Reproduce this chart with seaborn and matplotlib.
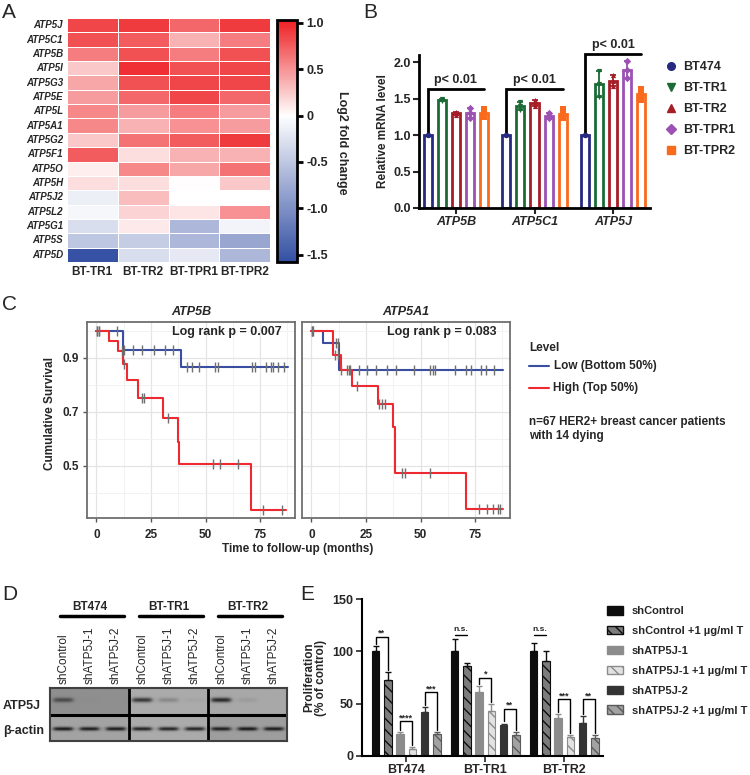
import numpy as np
import pandas as pd
import seaborn as sns
import matplotlib.pyplot as plt
from matplotlib.colors import LinearSegmentedColormap
from matplotlib.lines import Line2D
from matplotlib.patches import Patch

sns.set_theme(style="white")
plt.rcParams["font.family"] = ["Liberation Sans", "DejaVu Sans"]
plt.rcParams["hatch.linewidth"] = 1.0

# ---------------- data ----------------
# A: heatmap of log2 fold change
genes = ["ATP5J", "ATP5C1", "ATP5B", "ATP5I", "ATP5G3", "ATP5E", "ATP5L", "ATP5A1",
         "ATP5G2", "ATP5F1", "ATP5O", "ATP5H", "ATP5J2", "ATP5L2", "ATP5G1", "ATP5S", "ATP5D"]
lines_a = ["BT-TR1", "BT-TR2", "BT-TPR1", "BT-TPR2"]
fold = [
    [0.85, 0.90, 0.70, 0.90],
    [0.80, 0.75, 0.35, 0.60],
    [0.60, 0.80, 0.60, 0.80],
    [0.25, 0.95, 0.80, 0.85],
    [0.40, 0.80, 0.85, 0.85],
    [0.45, 0.70, 0.85, 0.70],
    [0.55, 0.45, 0.60, 0.45],
    [0.55, 0.35, 0.50, 0.45],
    [0.25, 0.65, 0.75, 0.90],
    [0.75, 0.15, 0.35, 0.35],
    [0.08, 0.55, 0.40, 0.65],
    [0.15, 0.15, 0.01, 0.25],
    [-0.15, 0.30, 0.00, 0.00],
    [-0.08, 0.20, 0.12, 0.50],
    [-0.30, 0.10, -0.65, -0.10],
    [-0.50, -0.45, -0.65, -0.80],
    [-1.55, -0.30, -0.20, -0.65],
]

# B: relative mRNA level, three replicates per cell line
b_genes = ["ATP5B", "ATP5C1", "ATP5J"]
b_lines = ["BT474", "BT-TR1", "BT-TR2", "BT-TPR1", "BT-TPR2"]
b_colors = ["#262a80", "#1c6b36", "#a51d27", "#9b52b3", "#fa6a1d"]
b_markers = ["o", "v", "^", "D", "s"]
rep_atp5b = [[1.0, 1.0, 1.0], [1.47, 1.49, 1.48], [1.28, 1.31, 1.32], [1.23, 1.30, 1.37], [1.25, 1.30, 1.36]]
rep_atp5c1 = [[1.0, 1.0, 1.0], [1.34, 1.40, 1.46], [1.40, 1.44, 1.48], [1.23, 1.26, 1.30], [1.23, 1.30, 1.36]]
rep_atp5j = [[1.0, 1.0, 1.0], [1.52, 1.70, 1.88], [1.68, 1.75, 1.82], [1.78, 1.90, 2.02], [1.48, 1.57, 1.63]]
b_bracket = [1.64, 1.64, 2.11]

# C: Kaplan-Meier step curves (time in months, survival)
b_low_t = [0, 12.3, 38.8, 88.0]
b_low_s = [1.0, 0.930, 0.865, 0.865]
b_high_t = [0, 5.6, 9.8, 12.2, 14.0, 19.0, 30.3, 37.3, 38.0, 70.7, 86.9]
b_high_s = [1.0, 0.962, 0.925, 0.877, 0.818, 0.753, 0.679, 0.590, 0.508, 0.338, 0.338]
b_low_cens = [0.3, 1.0, 9.4, 12.5, 16.8, 20.9, 26.5, 31.6, 34.9, 41.4, 43.8, 47.1, 54.4, 55.5,
              71.2, 72.7, 77.6, 79.8, 80.8, 83.4, 85.8]
b_high_cens = [0.3, 1.0, 11.7, 12.6, 20.9, 22.0, 33.0, 53.6, 56.6, 65.0, 76.5, 84.9]
a_low_t = [0, 5.5, 12.6, 88.0]
a_low_s = [1.0, 0.957, 0.855, 0.855]
a_high_t = [0, 10.0, 13.7, 18.7, 30.6, 37.4, 38.2, 70.8, 87.8]
a_high_s = [1.0, 0.911, 0.856, 0.796, 0.730, 0.643, 0.475, 0.340, 0.340]
a_low_cens = [0.3, 0.8, 11.4, 12.3, 13.4, 16.4, 17.9, 21.7, 25.6, 29.4, 34.7, 38.8, 47.2, 54.5,
              55.7, 56.8, 65.9, 71.0, 73.0, 77.8, 80.0, 83.7]
a_high_cens = [0.5, 11.0, 12.2, 17.2, 20.7, 30.9, 32.4, 33.9, 41.6, 43.1, 54.2, 77.0, 80.5, 83.0, 85.5, 86.2]

# D: western blot band intensities (0 = none, 1 = strong)
blot_sections = ["BT474", "BT-TR1", "BT-TR2"]
lane_labels = ["shControl", "shATP5J-1", "shATP5J-2"] * 3
atp5j_band = [0.55, 0.02, 0.0, 0.75, 0.22, 0.04, 0.85, 0.08, 0.0]
actin_band = [0.95, 0.92, 0.93, 0.90, 0.88, 0.88, 0.92, 0.95, 0.93]
atp5j_bg = [0.56, 0.67, 0.66]
actin_bg = [0.64, 0.67, 0.62]

# E: proliferation
e_groups = ["BT474", "BT-TR1", "BT-TR2"]
e_conds = ["shControl", "shControl +1 \u00b5g/ml T", "shATP5J-1", "shATP5J-1 +1 \u00b5g/ml T",
           "shATP5J-2", "shATP5J-2 +1 \u00b5g/ml T"]
e_mean = [[100, 73, 21, 7, 42, 21],
          [100, 86, 61, 43, 30, 20],
          [100, 91, 36, 18, 32, 17]]
e_err = [[5, 7, 1.5, 1.5, 5, 2],
         [12, 3, 6, 7, 1, 3],
         [8, 9, 4, 2, 6, 3]]
e_face = ["#0d0d0d", "#7c7c7c", "#8c8c8c", "#e2e2e2", "#343434", "#a2a2a2"]
e_edge = ["#0d0d0d", "#0d0d0d", "#8c8c8c", "#8c8c8c", "#343434", "#5a5a5a"]
e_hatch = [None, "\\\\\\", None, "\\\\\\", None, "\\\\\\"]
e_sig = [(0, 0, 1, 114, "**"), (0, 2, 3, 33, "****"), (0, 4, 5, 61, "***"),
         (1, 2, 3, 75, "*"), (1, 4, 5, 45, "**"), (2, 2, 3, 54, "***"), (2, 4, 5, 54, "**")]
e_ns = [(1, 0, 1, 116), (2, 0, 1, 116)]

# ---------------- figure ----------------
W, H = 750, 775
fig = plt.figure(figsize=(7.5, 7.75), dpi=100)


def rect(x0, y0, x1, y1):
    return [x0 / W, 1 - y1 / H, (x1 - x0) / W, (y1 - y0) / H]


def ftext(x, y, s, **kw):
    return fig.text(x / W, 1 - y / H, s, **kw)


for lab, (lx, ly) in zip("ABCDE", [(2, 12), (363, 12), (2, 305), (2, 595), (300, 595)]):
    ftext(lx, ly, lab, fontsize=15, va="center", ha="left")

# ---- A ----
axA = fig.add_axes(rect(67, 18, 270, 262))
axCb = fig.add_axes(rect(277, 20, 297, 262))
cmap = LinearSegmentedColormap.from_list("bwr_gp", [(0, "#3450a3"), (0.605, "#ffffff"), (1, "#ee2024")])
dfA = pd.DataFrame(fold, index=genes, columns=lines_a)
sns.heatmap(dfA, ax=axA, cbar_ax=axCb, cmap=cmap, vmin=-1.58, vmax=1.03,
            linewidths=0.4, linecolor="white", xticklabels=True, yticklabels=True,
            cbar_kws={"ticks": [-1.5, -1.0, -0.5, 0, 0.5, 1.0]})
axA.set_yticklabels(genes, rotation=0, fontstyle="italic", fontweight="bold", fontsize=7)
axA.set_xticklabels(lines_a, rotation=0, fontweight="bold", fontsize=8.5)
axA.tick_params(length=0, pad=3)
axA.set_xlabel("")
axA.set_ylabel("")
axCb.set_yticklabels(["-1.5", "-1.0", "-0.5", "0", "0.5", "1.0"], fontweight="bold", fontsize=9)
axCb.tick_params(length=4, width=2, right=True, color="black", pad=3)
axA.collections[0].colorbar.outline.set_linewidth(2)
axA.collections[0].colorbar.outline.set_edgecolor("black")
ftext(342, 143, "Log2 fold change", rotation=-90, ha="center", va="center", fontweight="bold", fontsize=9)

# ---- B ----
axB = fig.add_axes(rect(419, 55, 650, 208))
rows = []
for g, reps in zip(b_genes, [rep_atp5b, rep_atp5c1, rep_atp5j]):
    for ln, vals in zip(b_lines, reps):
        for v in vals:
            rows.append((g, ln, v))
dfB = pd.DataFrame(rows, columns=["gene", "line", "value"])
sns.barplot(data=dfB, x="gene", y="value", hue="line", order=b_genes, hue_order=b_lines,
            palette=b_colors, saturation=1, fill=False, width=0.9, gap=0.42,
            errorbar=None, linewidth=2, legend=False, ax=axB)
stats = dfB.groupby(["gene", "line"])["value"].agg(["mean", "std"])
bars = sorted(axB.patches, key=lambda p: p.get_x())
centers = {}
for i, p in enumerate(bars):
    gi, hi = divmod(i, len(b_lines))
    g, ln = b_genes[gi], b_lines[hi]
    cx = p.get_x() + p.get_width() / 2
    centers[(gi, hi)] = cx
    m, sd = stats.loc[(g, ln), "mean"], stats.loc[(g, ln), "std"]
    if sd > 0:
        axB.errorbar(cx, m, yerr=sd, color=b_colors[hi], capsize=2.5, lw=1.3, capthick=1.3)
    vals = dfB[(dfB.gene == g) & (dfB.line == ln)]["value"]
    axB.scatter([cx] * len(vals), vals, marker=b_markers[hi], color=b_colors[hi], s=14, zorder=5,
                linewidths=0)
for gi, yb in enumerate(b_bracket):
    x0, x1 = centers[(gi, 0)], centers[(gi, 4)]
    axB.plot([x0, x0, x1], [1.03, yb, yb], color="black", lw=2, clip_on=False, solid_joinstyle="miter")
    axB.text((x0 + x1) / 2, yb + 0.04, "p< 0.01", ha="center", va="bottom", fontweight="bold",
             fontsize=9, clip_on=False)
axB.set_xlim(-0.47, 2.47)
axB.set_ylim(0, 2.1)
axB.set_yticks([0, 0.5, 1.0, 1.5, 2.0])
axB.set_yticklabels(["0.0", "0.5", "1.0", "1.5", "2.0"], fontweight="bold", fontsize=9)
axB.set_xticks(range(3))
axB.set_xticklabels(b_genes, fontstyle="italic", fontweight="bold", fontsize=9)
axB.tick_params(axis="both", length=4, width=1.5, direction="out", bottom=True, left=True, pad=2)
axB.set_xlabel("")
axB.set_ylabel("Relative mRNA level", fontweight="bold", fontsize=8.5, labelpad=3)
sns.despine(ax=axB)
for sp in ["left", "bottom"]:
    axB.spines[sp].set_linewidth(2)
    axB.spines[sp].set_color("black")
b_handles = [Line2D([], [], marker=m, color=c, ls="none", markersize=5.5) for m, c in zip(b_markers, b_colors)]
fig.legend(b_handles, b_lines, loc="upper left", bbox_to_anchor=(652 / W, 1 - 50 / H), frameon=False,
           prop={"weight": "bold", "size": 9}, handletextpad=0.4, labelspacing=0.72, handlelength=1.2)

# ---- C ----
km_low = "#3a4ea1"
km_high = "#ee2a30"


def step_eval(ts, ss, x):
    idx = np.searchsorted(ts, x, side="right") - 1
    return np.asarray(ss)[idx]


def km_panel(ax, lt, ls, ht, hs, lc, hc, title, ptxt, show_y):
    df = pd.concat([pd.DataFrame({"t": lt, "s": ls, "level": "Low"}),
                    pd.DataFrame({"t": ht, "s": hs, "level": "High"})])
    sns.lineplot(data=df, x="t", y="s", hue="level", hue_order=["Low", "High"],
                 palette=[km_low, km_high], drawstyle="steps-post", estimator=None,
                 lw=1.5, legend=False, ax=ax)
    ax.plot(lc, step_eval(lt, ls, lc), "|", color="#707070", ms=7, mew=1, zorder=4)
    ax.plot(hc, step_eval(ht, hs, hc), "|", color="#707070", ms=7, mew=1, zorder=4)
    ax.set_xlim(-4.3, 91)
    ax.set_ylim(0.307, 1.033)
    ax.set_xticks([0, 25, 50, 75])
    ax.set_xticks([12.5, 37.5, 62.5, 87.5], minor=True)
    ax.set_yticks([0.5, 0.7, 0.9])
    ax.set_yticks([0.4, 0.6, 0.8, 1.0], minor=True)
    ax.grid(which="major", color="#e4e4e4", lw=0.9)
    ax.grid(which="minor", color="#f0f0f0", lw=0.6)
    ax.set_axisbelow(True)
    for sp in ax.spines.values():
        sp.set_color("#6e6e6e")
        sp.set_linewidth(1.3)
    ax.set_xticklabels(["0", "25", "50", "75"], fontweight="bold", fontsize=8.5)
    ax.tick_params(axis="x", which="major", bottom=True, length=3, width=1, color="#555555", pad=5)
    ax.tick_params(axis="both", which="minor", length=0)
    if show_y:
        ax.set_yticklabels(["0.5", "0.7", "0.9"], fontweight="bold", fontsize=8.5)
        ax.tick_params(axis="y", which="major", left=True, length=3, width=1, color="#555555", pad=3)
    else:
        ax.set_yticklabels([])
        ax.tick_params(axis="y", which="major", left=False)
    ax.set_xlabel("")
    ax.set_ylabel("")
    ax.set_title(title, fontstyle="italic", fontweight="bold", fontsize=9, pad=5)
    ax.text(0.935, 0.95, ptxt, transform=ax.transAxes, ha="right", va="center",
            fontweight="bold", fontsize=9)


axC1 = fig.add_axes(rect(87, 322, 295, 518))
axC2 = fig.add_axes(rect(302, 322, 510, 518))
km_panel(axC1, b_low_t, b_low_s, b_high_t, b_high_s, b_low_cens, b_high_cens,
         "ATP5B", "Log rank p = 0.007", True)
km_panel(axC2, a_low_t, a_low_s, a_high_t, a_high_s, a_low_cens, a_high_cens,
         "ATP5A1", "Log rank p = 0.083", False)
ftext(298, 549, "Time to follow-up (months)", ha="center", va="center", fontweight="bold", fontsize=8.5)
ftext(50, 413, "Cumulative Survival", rotation=90, ha="center", va="center", fontweight="bold", fontsize=8.5)
ftext(529, 348, "Level", ha="left", va="center", fontweight="bold", fontsize=8.5)
fig.add_artist(Line2D([529 / W, 549 / W], [1 - 366 / H] * 2, color=km_low, lw=1.5))
fig.add_artist(Line2D([529 / W, 549 / W], [1 - 388 / H] * 2, color=km_high, lw=1.5))
ftext(554, 366, "Low (Bottom 50%)", ha="left", va="center", fontweight="bold", fontsize=8.5)
ftext(553, 388, "High (Top 50%)", ha="left", va="center", fontweight="bold", fontsize=8.5)
ftext(529, 422, "n=67 HER2+ breast cancer patients", ha="left", va="center", fontweight="bold", fontsize=8.5)
ftext(529, 436, "with 14 dying", ha="left", va="center", fontweight="bold", fontsize=8.5)

# ---- D ----
axD = fig.add_axes(rect(50, 688, 287, 741))
ny, nx = 120, 540
yy = (np.arange(ny) + 0.5) / ny * 2
xx = (np.arange(nx) + 0.5) / nx * 9
X, Y = np.meshgrid(xx, yy)
img = np.zeros((ny, nx))
for r, (bands, bgs, yc, sy) in enumerate([(atp5j_band, atp5j_bg, 0.48, 0.085),
                                          (actin_band, actin_bg, 0.55, 0.07)]):
    in_row = (Y >= r) & (Y < r + 1)
    for s in range(3):
        sec = in_row & (X >= 3 * s) & (X < 3 * s + 3)
        img[sec] = bgs[s]
    for lane, inten in enumerate(bands):
        dx = X - (lane + 0.5)
        prof_x = 1 / (1 + np.exp(-(dx + 0.36) / 0.05)) / (1 + np.exp((dx - 0.36) / 0.05))
        prof_y = np.exp(-((Y - r - yc) / sy) ** 2)
        bg = img.copy()
        img = np.where(in_row, bg - (bg - 0.06) * inten * prof_x * prof_y, img)
axD.imshow(img, extent=[0, 9, 2, 0], cmap="gray", vmin=0, vmax=1, aspect="auto", interpolation="bilinear")
axD.axvline(3, color="black", lw=2)
axD.axvline(6, color="black", lw=2)
axD.axhline(1, color="black", lw=2.2)
for sp in axD.spines.values():
    sp.set_visible(True)
    sp.set_color("#404040")
    sp.set_linewidth(1.5)
axD.set_xticks([])
axD.set_yticks([])
for lane, lab in enumerate(lane_labels):
    axD.text(lane + 0.5, 1.08, lab, transform=axD.get_xaxis_transform(), rotation=90,
             ha="center", va="bottom", fontsize=8.5)
for s, name in enumerate(blot_sections):
    x0 = 50 + s * 237 / 3
    ftext(x0 + 237 / 6, 607, name, ha="center", va="center", fontweight="bold", fontsize=8.5)
    fig.add_artist(Line2D([(x0 + 10) / W, (x0 + 74) / W], [1 - 616 / H] * 2, color="black", lw=2.5))
ftext(3, 706, "ATP5J", ha="left", va="center", fontweight="bold", fontsize=9)
ftext(3, 731, "\u03b2-actin", ha="left", va="center", fontweight="bold", fontsize=9)

# ---- E ----
axE = fig.add_axes(rect(362, 599, 603, 756))
rowsE = []
for g, means in zip(e_groups, e_mean):
    for c, v in zip(e_conds, means):
        rowsE.append((g, c, v))
dfE = pd.DataFrame(rowsE, columns=["group", "cond", "value"])
sns.barplot(data=dfE, x="group", y="value", hue="cond", order=e_groups, hue_order=e_conds,
            palette=e_face, saturation=1, width=0.93, gap=0.4, errorbar=None,
            linewidth=0.8, legend=False, ax=axE)
barsE = sorted(axE.patches, key=lambda p: p.get_x())
ecent = {}
for i, p in enumerate(barsE):
    gi, ci = divmod(i, len(e_conds))
    p.set_edgecolor(e_edge[ci])
    if e_hatch[ci]:
        p.set_hatch(e_hatch[ci])
    cx = p.get_x() + p.get_width() / 2
    ecent[(gi, ci)] = cx
    axE.errorbar(cx, e_mean[gi][ci], yerr=[[0], [e_err[gi][ci]]], color=e_edge[ci],
                 capsize=2, lw=1, capthick=1)
for gi, a, b, yb, s in e_sig:
    xa, xb = ecent[(gi, a)], ecent[(gi, b)]
    ya = e_mean[gi][a] + e_err[gi][a] + 2
    yb2 = e_mean[gi][b] + e_err[gi][b] + 2
    axE.plot([xa, xa, xb, xb], [ya, yb, yb, yb2], color="black", lw=1)
    axE.text((xa + xb) / 2, yb - 1, s, ha="center", va="bottom", fontsize=6.5, fontweight="bold")
for gi, a, b, yb in e_ns:
    xa, xb = ecent[(gi, a)], ecent[(gi, b)]
    axE.plot([xa, xb], [yb, yb], color="black", lw=1)
    axE.text((xa + xb) / 2, yb + 1.5, "n.s.", ha="center", va="bottom", fontsize=6, fontweight="bold")
axE.set_xlim(-0.56, 2.49)
axE.set_ylim(0, 150)
axE.set_yticks([0, 50, 100, 150])
axE.set_yticklabels(["0", "50", "100", "150"], fontweight="bold", fontsize=9)
axE.set_xticks(range(3))
axE.set_xticklabels(e_groups, fontweight="bold", fontsize=9)
axE.tick_params(axis="both", length=4, width=1.2, bottom=True, left=True, pad=2)
axE.set_xlabel("")
axE.set_ylabel("Proliferation\n(% of control)", fontweight="bold", fontsize=8.5, labelpad=4, linespacing=1.0)
sns.despine(ax=axE)
for sp in ["left", "bottom"]:
    axE.spines[sp].set_linewidth(1.5)
    axE.spines[sp].set_color("black")
e_handles = [Patch(facecolor=f, edgecolor=e, hatch=h) for f, e, h in zip(e_face, e_edge, e_hatch)]
fig.legend(e_handles, e_conds, loc="upper left", bbox_to_anchor=(597 / W, 1 - 596 / H), frameon=False,
           prop={"weight": "bold", "size": 8}, handlelength=1.45, handleheight=0.8,
           labelspacing=0.88, handletextpad=0.8, borderpad=0.4)

fig.savefig("out.png", dpi=100)
